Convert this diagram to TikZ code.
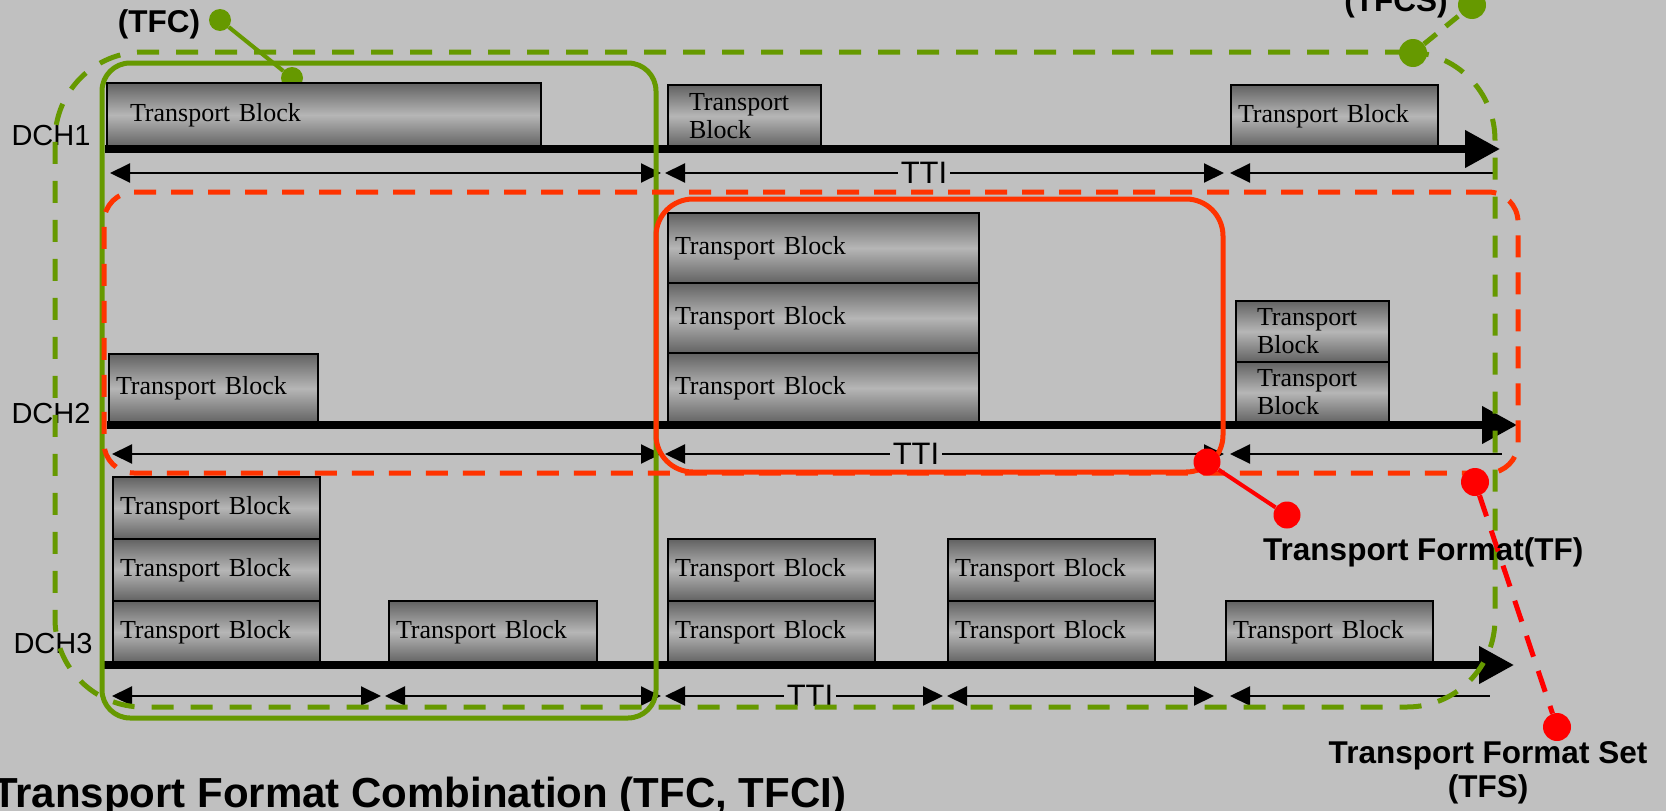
\documentclass[tikz,border=0pt]{standalone}
\usepackage{fontspec}
\setmainfont{Liberation Serif}
\newfontfamily\arialf{Liberation Sans}
\usepackage{xcolor}
\usepackage{tikz}
\usetikzlibrary{arrows.meta}
\definecolor{bgc}{RGB}{192,192,192}
\definecolor{grn}{RGB}{102,153,0}
\definecolor{tfred}{RGB}{255,51,0}
\definecolor{dotred}{RGB}{255,0,0}
\definecolor{blkdark}{RGB}{98,98,98}
\definecolor{blklight}{RGB}{182,182,182}

\begin{document}
\begin{tikzpicture}[x=1pt, y=-1pt,
  tb/.style={draw=black, line width=2pt, top color=blkdark, bottom color=blkdark, middle color=blklight, anchor=north west, align=left, inner xsep=7pt, inner ysep=0pt, font=\fontsize{26}{28}\selectfont},
  tb2/.style={tb, inner xsep=21pt, text width=111pt, minimum height=61pt},
  tline/.style={line width=7.5pt, -{Triangle[length=35pt,width=36pt]}},
  dim/.style={line width=2pt, {Triangle[length=20pt,width=19pt]}-{Triangle[length=20pt,width=19pt]}},
  diml/.style={line width=2pt, {Triangle[length=20pt,width=19pt]}-},
  tti/.style={fill=bgc, inner xsep=3pt, inner ysep=1pt, font=\arialf\fontsize{31}{33}\selectfont},
  dch/.style={font=\arialf\fontsize{29}{31}\selectfont, inner sep=0pt},
  tfcbox/.style={draw=grn, line width=5pt, rounded corners=28pt},
  tfcsbox/.style={draw=grn, line width=5pt, dash pattern=on 22pt off 17pt, rounded corners=88pt},
  tfsbox/.style={draw=tfred, line width=5pt, dash pattern=on 22pt off 15pt, rounded corners=30pt},
  tfbox/.style={draw=tfred, line width=5pt, rounded corners=37pt},
  gdot/.style={circle, fill=grn, inner sep=0pt, minimum size=#1},
  rdot/.style={circle, fill=dotred, inner sep=0pt, minimum size=#1},
  gcon/.style={draw=grn, line width=4pt},
  gdash/.style={draw=grn, line width=5pt, dash pattern=on 16pt off 12pt},
  rcon/.style={draw=dotred, line width=4pt},
  rdash/.style={draw=dotred, line width=5pt, dash pattern=on 22pt off 15pt},
  lbl/.style={font=\arialf\bfseries\fontsize{31.5}{34}\selectfont, inner sep=0pt}]
\useasboundingbox (0,0) rectangle (1666,811);
\clip (0,0) rectangle (1666,811);
\fill[bgc] (0,0) rectangle (1666,811);
% ---------------- TFC pointer (runs under the first block) ----------------
\node[gdot=22pt] (tfcd1) at (220,20) {};
\node[gdot=22pt] (tfcd2) at (292,78) {};
\draw[gcon] (tfcd1) -- (tfcd2);
% ---------------- DCH1 ----------------
\node[tb, inner xsep=23pt, text width=388pt, minimum height=64pt] (b1a) at (106,82) {Transport Block};
\node[tb2, minimum height=62pt] (b1b) at (667,84) {Transport\\Block};
\node[tb, text width=193pt, minimum height=62pt] (b1c) at (1230,84) {Transport Block};
% ---------------- DCH2 ----------------
\node[tb, text width=195pt, minimum height=69pt] (b2a) at (108,353) {Transport Block};
\node[tb, text width=297pt, minimum height=70pt] (b2b) at (667,212) {Transport Block};
\node[tb, text width=297pt, minimum height=70pt] (b2c) at (667,282) {Transport Block};
\node[tb, text width=297pt, minimum height=70pt] (b2d) at (667,352) {Transport Block};
\node[tb2] (b2e) at (1235,300) {Transport\\Block};
\node[tb2] (b2f) at (1235,361) {Transport\\Block};
% ---------------- DCH3 ----------------
\node[tb, text width=193pt, minimum height=62pt] (b3a) at (112,476) {Transport Block};
\node[tb, text width=193pt, minimum height=62pt] (b3b) at (112,538) {Transport Block};
\node[tb, text width=193pt, minimum height=62pt] (b3c) at (112,600) {Transport Block};
\node[tb, text width=194pt, minimum height=62pt] (b3d) at (388,600) {Transport Block};
\node[tb, text width=193pt, minimum height=62pt] (b3e) at (667,538) {Transport Block};
\node[tb, text width=193pt, minimum height=62pt] (b3f) at (667,600) {Transport Block};
\node[tb, text width=193pt, minimum height=62pt] (b3g) at (947,538) {Transport Block};
\node[tb, text width=193pt, minimum height=62pt] (b3h) at (947,600) {Transport Block};
\node[tb, text width=193pt, minimum height=62pt] (b3i) at (1225,600) {Transport Block};
% ---------------- channel labels and time axes ----------------
\node[dch] (dch1) at (51,136) {DCH1};
\node[dch] (dch2) at (51,414) {DCH2};
\node[dch] (dch3) at (53,644) {DCH3};
\draw[tline] (105,149) -- (1500,149);
\draw[tline] (107,425) -- (1517,425);
\draw[tline] (101,665) -- (1514,665);
% ---------------- TTI spans ----------------
\draw[dim] (110,173) -- (661,173);
\draw[dim] (665,173) -- (1224,173);
\draw[diml] (1230,173) -- (1495,173);
\node[tti] (tti1) at (924,173) {TTI};
\draw[dim] (112,454) -- (661,454);
\draw[dim] (665,454) -- (1224,454);
\draw[diml] (1230,454) -- (1502,454);
\node[tti] (tti2) at (916,454) {TTI};
\draw[dim] (112,696) -- (381,696);
\draw[dim] (385,696) -- (661,696);
\draw[dim] (665,696) -- (943,696);
\draw[dim] (947,696) -- (1214,696);
\draw[diml] (1230,696) -- (1490,696);
\node[tti] (tti3) at (810,696) {TTI};
% ---------------- groupings ----------------
\node[tfcbox, minimum width=554pt, minimum height=655pt] (tfc) at (379,390.5) {};
\node[tfcsbox, minimum width=1440pt, minimum height=655pt] (tfcs) at (775,379.5) {};
\node[tfsbox, minimum width=1414pt, minimum height=281pt] (tfs) at (811,332.5) {};
\node[tfbox, minimum width=567pt, minimum height=273pt] (tf) at (939.5,335.5) {};
% ---------------- pointers ----------------
\node[gdot=28pt] (tfcsd1) at (1413,53) {};
\node[gdot=28pt] (tfcsd2) at (1472,5) {};
\draw[gdash] (tfcsd1) -- (tfcsd2);
\node[rdot=27pt] (tfd1) at (1207,462) {};
\node[rdot=27pt] (tfd2) at (1287,515) {};
\draw[rcon] (tfd1) -- (tfd2);
\node[rdot=28pt] (tfsd1) at (1475,482) {};
\node[rdot=28pt] (tfsd2) at (1557,727) {};
\draw[rdash] (tfsd1) -- (tfsd2);
% ---------------- labels ----------------
\node[lbl, anchor=base] (tfclbl) at (159,32) {(TFC)};
\node[lbl, anchor=base] (tfcslbl) at (1396,11) {(TFCS)};
\node[lbl, anchor=base west] (tflbl) at (1263,560) {Transport Format(TF)};
\node[lbl, anchor=base, align=center] (tfslbl) at (1488,797) {Transport Format Set\\(TFS)};
\node[lbl, anchor=base west, font=\arialf\bfseries\fontsize{42}{44}\selectfont] (title) at (-8,807) {Transport Format Combination (TFC, TFCI)};
\end{tikzpicture}
\end{document}
